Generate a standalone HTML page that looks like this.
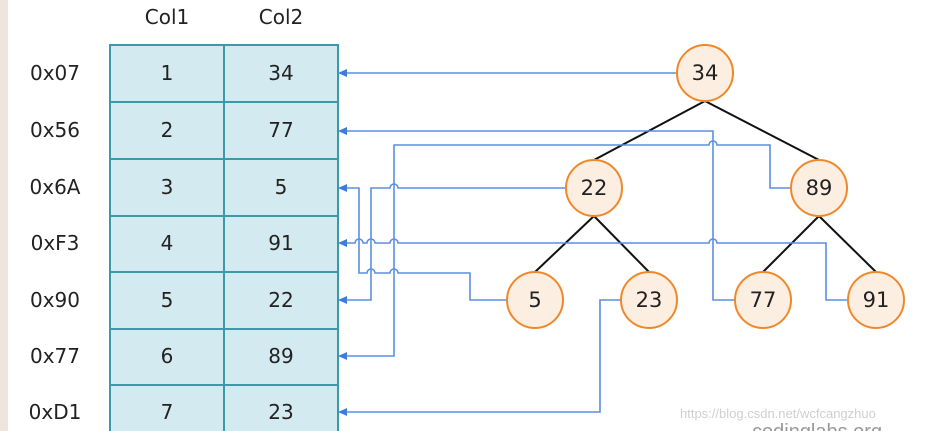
<!DOCTYPE html>
<html><head><meta charset="utf-8"><style>
html,body{margin:0;padding:0;background:#fff;}
body{width:928px;height:431px;overflow:hidden;position:relative;font-family:"Liberation Sans","DejaVu Sans",sans-serif;}
</style></head><body>
<svg width="928" height="431" xmlns="http://www.w3.org/2000/svg" style="position:absolute;left:0;top:0">
<rect x="0" y="0" width="8" height="431" fill="#efe5dc"/>
<g font-family="DejaVu Sans, sans-serif" font-size="20" fill="#222" text-anchor="middle">
<text x="167" y="24">Col1</text><text x="281" y="24">Col2</text>
<text x="55" y="80">0x07</text><text x="55" y="137">0x56</text><text x="55" y="194">0x6A</text>
<text x="55" y="250">0xF3</text><text x="55" y="307">0x90</text><text x="55" y="363">0x77</text>
<text x="55" y="419">0xD1</text>
</g>
<g fill="#d3eaf0" stroke="#3b9aaa" stroke-width="2">
<rect x="110" y="45" width="228" height="400"/>
</g>
<g stroke="#3b9aaa" stroke-width="2">
<line x1="224" y1="45" x2="224" y2="431"/>
<line x1="110" y1="102" x2="338" y2="102"/>
<line x1="110" y1="159" x2="338" y2="159"/>
<line x1="110" y1="216" x2="338" y2="216"/>
<line x1="110" y1="272" x2="338" y2="272"/>
<line x1="110" y1="329" x2="338" y2="329"/>
<line x1="110" y1="385" x2="338" y2="385"/>
</g>
<g font-family="DejaVu Sans, sans-serif" font-size="20" fill="#222" text-anchor="middle">
<text x="167" y="80">1</text><text x="281" y="80">34</text>
<text x="167" y="137">2</text><text x="281" y="137">77</text>
<text x="167" y="194">3</text><text x="281" y="194">5</text>
<text x="167" y="250">4</text><text x="281" y="250">91</text>
<text x="167" y="307">5</text><text x="281" y="307">22</text>
<text x="167" y="363">6</text><text x="281" y="363">89</text>
<text x="167" y="419">7</text><text x="281" y="419">23</text>
</g>
<g stroke="#111" stroke-width="2">
<line x1="705" y1="101" x2="594" y2="160"/>
<line x1="705" y1="101" x2="819" y2="160"/>
<line x1="594" y1="216" x2="535" y2="272"/>
<line x1="594" y1="216" x2="649" y2="272"/>
<line x1="819" y1="216" x2="763" y2="272"/>
<line x1="819" y1="216" x2="876" y2="272"/>
</g>
<g fill="none" stroke="#5b8fdf" stroke-width="1.6">
<path d="M677 73 H342"/>
<path d="M735 300 H713 V131 H342"/>
<path d="M791 188 H770 V145 H717 A4 4 0 0 0 709 145 H394 V356 H342"/>
<path d="M566 188 H398 A4 4 0 0 0 390 188 H371 V300 H342"/>
<path d="M507 300 H470 V273 H398 A4 4 0 0 0 390 273 H375 A4 4 0 0 0 367 273 H359 V188 H342"/>
<path d="M848 300 H826 V243 H717 A4 4 0 0 0 709 243 H398 A4 4 0 0 0 390 243 H375 A4 4 0 0 0 367 243 H363 A4 4 0 0 0 355 243 H342"/>
<path d="M621 300 H600 V412 H342"/>
</g>
<g fill="#3f7bd8">
<polygon points="338,73 347,69 347,77"/>
<polygon points="338,131 347,127 347,135"/>
<polygon points="338,188 347,184 347,192"/>
<polygon points="338,243 347,239 347,247"/>
<polygon points="338,300 347,296 347,304"/>
<polygon points="338,356 347,352 347,360"/>
<polygon points="338,412 347,408 347,416"/>
</g>
<g fill="#fdeee2" stroke="#f0882a" stroke-width="2">
<circle cx="705" cy="73" r="28"/>
<circle cx="594" cy="188" r="28"/>
<circle cx="819" cy="188" r="28"/>
<circle cx="535" cy="300" r="28"/>
<circle cx="649" cy="300" r="28"/>
<circle cx="763" cy="300" r="28"/>
<circle cx="876" cy="300" r="28"/>
</g>
<g font-family="DejaVu Sans, sans-serif" font-size="21" fill="#222" text-anchor="middle">
<text x="705" y="80">34</text>
<text x="594" y="195">22</text>
<text x="819" y="195">89</text>
<text x="535" y="307">5</text>
<text x="649" y="307">23</text>
<text x="763" y="307">77</text>
<text x="876" y="307">91</text>
</g>
<text x="680" y="418" font-size="13" fill="#cfcfcf" font-family="Liberation Sans, sans-serif">https://blog.csdn.net/wcfcangzhuo</text>
<text x="752" y="438" font-size="20" fill="#999" font-family="Liberation Sans, sans-serif">codinglabs.org</text>
</svg>
</body></html>
